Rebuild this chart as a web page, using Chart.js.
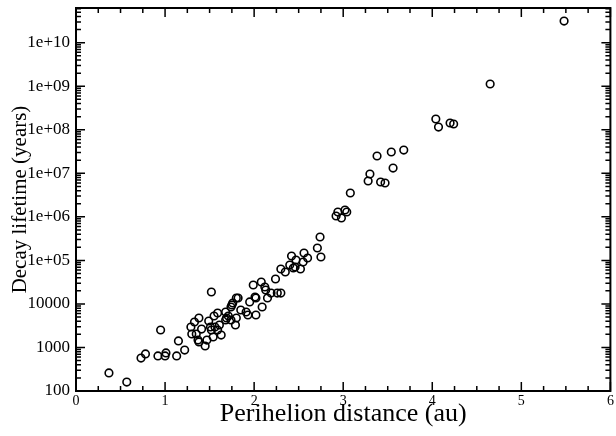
<!DOCTYPE html>
<html lang="en">
<head>
  <meta charset="UTF-8">
  <title>Decay lifetime vs perihelion distance</title>
  <script src="https://cdn.jsdelivr.net/npm/chart.js"></script>
  <style>
    body {
      margin: 0;
      padding: 0;
      background: #fff;
    }
  </style>
</head>
<body>
  <canvas id="decayChart" width="616" height="436"></canvas>
  <script>
    // values
    const perihelion = [
      0.37, 0.57, 0.73, 0.78, 0.92, 0.95, 1.00, 1.01, 1.13, 1.15,
      1.22, 1.29, 1.30, 1.33, 1.38, 1.35, 1.37, 1.38, 1.41, 1.45,
      1.47, 1.49, 1.52, 1.52, 1.51, 1.55, 1.59, 1.54, 1.56, 1.61,
      1.63, 1.59, 1.68, 1.69, 1.71, 1.68, 1.74, 1.76, 1.74, 1.79,
      1.80, 1.75, 1.80, 1.82, 1.85, 1.91, 1.93, 1.95, 1.99, 2.01,
      2.02, 2.02, 2.08, 2.09, 2.12, 2.13, 2.15, 2.19, 2.24, 2.26,
      2.30, 2.30, 2.35, 2.40, 2.42, 2.44, 2.46, 2.47, 2.52, 2.55,
      2.56, 2.60, 2.71, 2.74, 2.75, 2.92, 2.94, 2.98, 3.02, 3.04,
      3.08, 3.28, 3.30, 3.38, 3.42, 3.47, 3.54, 3.56, 3.68, 4.04,
      4.07, 4.20, 4.24, 4.65, 5.48
    ];
    const lifetime = [
      260, 160, 570, 710, 640, 2520, 640, 750, 640, 1410,
      870, 2950, 2040, 3840, 4750, 2040, 1480, 1340, 2650, 1080,
      1480, 4050, 18800, 2520, 2950, 5280, 6190, 1740, 2950, 3280,
      1930, 2520, 6520, 4750, 5280, 4270, 8500, 10500, 4270, 3280,
      4750, 9450, 13700, 13700, 7250, 6520, 5570, 11100, 27200, 14400,
      5570, 13700, 31900, 8500, 24500, 20900, 13700, 17800, 37400, 17800,
      17800, 63400, 54100, 78300, 126100, 66800, 70500, 102000, 63400, 91800,
      147700, 113400, 192400, 344300, 119600, 1046000, 1292000, 940600, 1436000, 1292000,
      3528000, 6655000, 9636000, 24970000, 6313000, 5987000, 30850000, 13230000, 34280000, 176700000,
      115700000, 143000000, 135600000, 1125000000, 31480000000
    ];
    const yTickLabels = ['100', '1000', '10000', '1e+05', '1e+06', '1e+07', '1e+08', '1e+09', '1e+10'];
    const xTickLabels = ['0', '1', '2', '3', '4', '5', '6'];

    const serif = "'Liberation Serif', 'Times New Roman', serif";

    const points = perihelion.map((q, i) => ({ x: q, y: lifetime[i] }));

    function isDecade(v) {
      const l = Math.log10(v);
      return Math.abs(l - Math.round(l)) < 1e-9;
    }

    // frame plus inward ticks on all four sides
    const frameTicks = {
      id: 'frameTicks',
      afterDraw(chart) {
        const { ctx, chartArea: a, scales: { x, y } } = chart;
        ctx.save();
        ctx.strokeStyle = '#000';
        ctx.lineWidth = 1.5;
        ctx.beginPath();
        x.ticks.forEach(t => {
          const px = x.getPixelForValue(t.value);
          const len = Number.isInteger(t.value) ? 9 : 5;
          ctx.moveTo(px, a.bottom);
          ctx.lineTo(px, a.bottom - len);
          ctx.moveTo(px, a.top);
          ctx.lineTo(px, a.top + len);
        });
        y.ticks.forEach(t => {
          const py = y.getPixelForValue(t.value);
          const len = isDecade(t.value) ? 9 : 5;
          ctx.moveTo(a.left, py);
          ctx.lineTo(a.left + len, py);
          ctx.moveTo(a.right, py);
          ctx.lineTo(a.right - len, py);
        });
        ctx.stroke();
        ctx.lineWidth = 2;
        ctx.strokeRect(a.left, a.top, a.right - a.left, a.bottom - a.top);
        ctx.restore();
      }
    };

    new Chart(document.getElementById('decayChart'), {
      type: 'scatter',
      data: {
        datasets: [{
          data: points,
          pointStyle: 'circle',
          pointRadius: 3.8,
          pointBorderWidth: 1.6,
          borderColor: '#000',
          backgroundColor: 'rgba(0,0,0,0)'
        }]
      },
      options: {
        responsive: false,
        animation: false,
        layout: { padding: { left: 0, right: 1, top: 8, bottom: 0 } },
        plugins: {
          legend: { display: false },
          tooltip: { enabled: false }
        },
        scales: {
          x: {
            type: 'linear',
            min: 0,
            max: 6,
            grid: { display: false, drawTicks: false, tickLength: 0 },
            border: { display: false },
            ticks: {
              stepSize: 0.25,
              autoSkip: false,
              maxRotation: 0,
              padding: 2,
              color: '#000',
              font: { family: serif, size: 14 },
              callback: v => Number.isInteger(v) ? xTickLabels[v] : ''
            },
            title: {
              display: true,
              text: 'Perihelion distance (au)',
              color: '#000',
              font: { family: serif, size: 26 },
              padding: { top: 0, bottom: 6 }
            },
            afterFit(scale) {
              scale.height = 45;
              scale.paddingLeft = 0;
              scale.paddingRight = 0;
            }
          },
          y: {
            type: 'logarithmic',
            min: 100,
            max: 6.27e10,
            grid: { display: false, drawTicks: false, tickLength: 0 },
            border: { display: false },
            afterBuildTicks(scale) {
              const ticks = [];
              for (let e = 2; e <= 10; e++) {
                for (let k = 1; k <= 9; k++) {
                  const v = k * Math.pow(10, e);
                  if (v <= scale.max) ticks.push({ value: v });
                }
              }
              scale.ticks = ticks;
            },
            ticks: {
              autoSkip: false,
              padding: 6,
              color: '#000',
              font: { family: serif, size: 17 },
              callback: v => isDecade(v) ? yTickLabels[Math.round(Math.log10(v)) - 2] : ''
            },
            title: {
              display: true,
              text: 'Decay lifetime (years)',
              color: '#000',
              font: { family: serif, size: 21 },
              padding: { top: 8, bottom: 0 }
            },
            afterFit(scale) {
              scale.width = 76;
              scale.paddingTop = 0;
              scale.paddingBottom = 0;
            }
          }
        }
      },
      plugins: [frameTicks]
    });
  </script>
</body>
</html>
